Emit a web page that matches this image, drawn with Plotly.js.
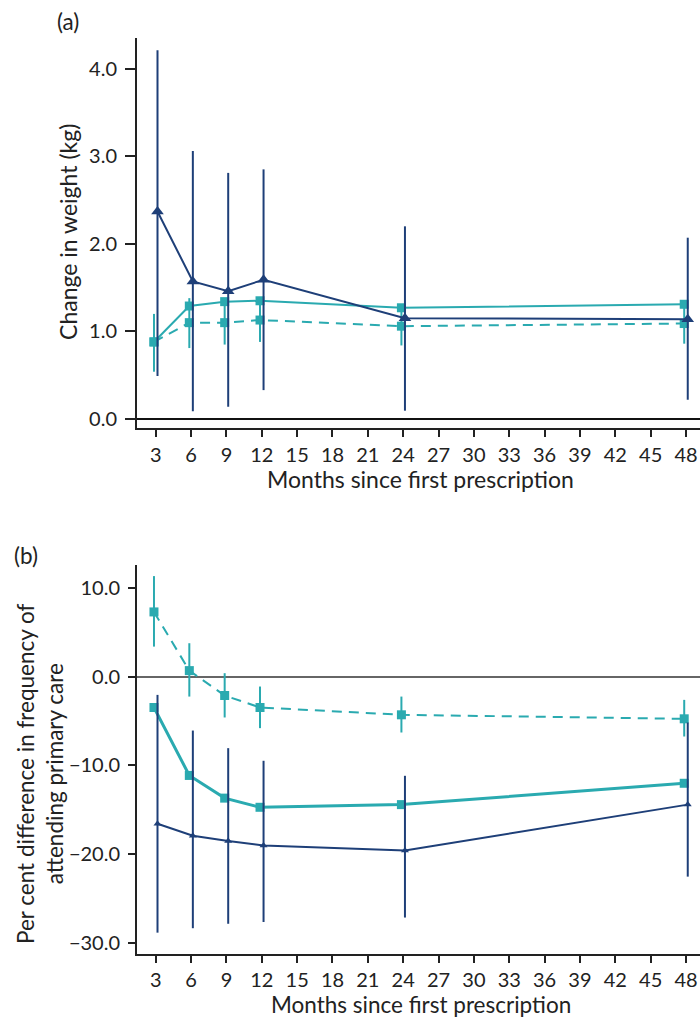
<!DOCTYPE html>
<html>
<head>
<meta charset="utf-8">
<script src="https://cdn.plot.ly/plotly-3.0.1.min.js"></script>
<style>html,body{margin:0;padding:0;background:#fff;}#chart{width:700px;height:1019px;}</style>
</head>
<body>
<div id="chart"></div>
<script>
// ---- Data ----
const months = [3, 6, 9, 12, 24, 48];
const xTicks = [3, 6, 9, 12, 15, 18, 21, 24, 27, 30, 33, 36, 39, 42, 45, 48];

// Panel (a): change in weight (kg)
const weightNavy   = [2.37, 1.57, 1.46, 1.59, 1.15, 1.14];
const weightNavyLo = [0.49, 0.09, 0.14, 0.33, 0.095, 0.22];
const weightNavyHi = [4.21, 3.06, 2.81, 2.85, 2.20, 2.07];
const weightTealSolid = [0.88, 1.29, 1.34, 1.35, 1.27, 1.31];
const weightTealDash  = [0.88, 1.10, 1.10, 1.13, 1.06, 1.09];
const weightTealDashLo = [0.54, 0.81, 0.85, 0.88, 0.84, 0.86];
const weightTealDashHi = [1.20, 1.38, 1.36, 1.37, 1.28, 1.32];

// Panel (b): per cent difference in frequency of attending primary care
const visitsNavy   = [-16.55, -17.9, -18.5, -19.0, -19.55, -14.4];
const visitsNavyLo = [-28.8, -28.3, -27.8, -27.6, -27.1, -22.5];
const visitsNavyHi = [-2.06, -6.07, -8.05, -9.47, -11.16, -5.17];
const visitsTealSolid = [-3.48, -11.12, -13.67, -14.7, -14.4, -12.0];
const visitsTealDash  = [7.27, 0.67, -2.13, -3.48, -4.3, -4.75];
const visitsTealDashLo = [3.37, -2.25, -4.6, -5.8, -6.29, -6.74];
const visitsTealDashHi = [11.3, 3.75, 0.38, -1.12, -2.25, -2.62];

// Text
const panelLabels = ['(a)', '(b)'];
const xTitle = 'Months since first prescription';
const yTitleA = 'Change in weight (kg)';
const yTitleB = 'Per cent difference in frequency of<br>attending primary care';

// ---- Styling ----
const NAVY = '#1e3f78';
const TEAL = '#2aaab0';
const DODGE = 0.15;
const xNavy = months.map(m => m + DODGE);
const xTeal = months.map(m => m - DODGE);
const up = (v, hi) => hi.map((h, i) => h - v[i]);
const dn = (v, lo) => lo.map((l, i) => v[i] - l);

const traces = [
  // Panel (a)
  {x: xTeal, y: weightTealDash, xaxis: 'x', yaxis: 'y', mode: 'lines+markers', type: 'scatter',
   line: {color: TEAL, width: 2, dash: '10px,7px'}, marker: {symbol: 'square', size: 9, color: TEAL},
   error_y: {type: 'data', symmetric: false, array: up(weightTealDash, weightTealDashHi),
             arrayminus: dn(weightTealDash, weightTealDashLo), color: TEAL, thickness: 2, width: 0},
   showlegend: false},
  {x: xTeal, y: weightTealSolid, xaxis: 'x', yaxis: 'y', mode: 'lines+markers', type: 'scatter',
   line: {color: TEAL, width: 2}, marker: {symbol: 'square', size: 9, color: TEAL}, showlegend: false},
  {x: xNavy, y: weightNavy, xaxis: 'x', yaxis: 'y', mode: 'lines+markers', type: 'scatter',
   line: {color: NAVY, width: 2}, marker: {symbol: 'triangle-up', size: 11, color: NAVY},
   error_y: {type: 'data', symmetric: false, array: up(weightNavy, weightNavyHi),
             arrayminus: dn(weightNavy, weightNavyLo), color: NAVY, thickness: 2, width: 0},
   showlegend: false},
  // Panel (b)
  {x: xTeal, y: visitsTealDash, xaxis: 'x2', yaxis: 'y2', mode: 'lines+markers', type: 'scatter',
   line: {color: TEAL, width: 2, dash: '10px,7px'}, marker: {symbol: 'square', size: 9, color: TEAL},
   error_y: {type: 'data', symmetric: false, array: up(visitsTealDash, visitsTealDashHi),
             arrayminus: dn(visitsTealDash, visitsTealDashLo), color: TEAL, thickness: 2, width: 0},
   showlegend: false},
  {x: xTeal, y: visitsTealSolid, xaxis: 'x2', yaxis: 'y2', mode: 'lines+markers', type: 'scatter',
   line: {color: TEAL, width: 3}, marker: {symbol: 'square', size: 9, color: TEAL}, showlegend: false},
  {x: xNavy, y: visitsNavy, xaxis: 'x2', yaxis: 'y2', mode: 'lines+markers', type: 'scatter',
   line: {color: NAVY, width: 2}, marker: {symbol: 'triangle-up', size: 7, color: NAVY},
   error_y: {type: 'data', symmetric: false, array: up(visitsNavy, visitsNavyHi),
             arrayminus: dn(visitsNavy, visitsNavyLo), color: NAVY, thickness: 2, width: 0},
   showlegend: false}
];

const FONT = 'Lato, "Open Sans", sans-serif';
const TXT = '#222222';
const FS_TICK = 20;
const FS_TITLE = 23;
const xCommon = {
  range: [1.41, 49.19], tickvals: xTicks, ticktext: xTicks.map(String),
  ticks: 'outside', ticklen: 7, tickwidth: 2, tickcolor: '#222',
  showline: true, linecolor: '#222', linewidth: 2, showgrid: false, zeroline: false,
  tickfont: {family: FONT, size: FS_TICK, color: TXT}
};
const yCommon = {
  ticks: 'outside', tickwidth: 2, tickcolor: '#222',
  showline: true, linecolor: '#222', linewidth: 2, showgrid: false,
  ticklabelstandoff: 4,
  tickfont: {family: FONT, size: FS_TICK, color: TXT}
};
const tf = {family: FONT, size: FS_TITLE, color: TXT};
const tfy = {family: FONT, size: 22.5, color: TXT};

const layout = {
  width: 700, height: 1019,
  margin: {l: 137, r: 0, t: 38, b: 65},
  paper_bgcolor: '#fff', plot_bgcolor: '#fff',
  font: {family: FONT, color: TXT},
  xaxis: Object.assign({}, xCommon, {anchor: 'y', domain: [0, 1], ticklabelstandoff: 1}),
  xaxis2: Object.assign({}, xCommon, {anchor: 'y2', domain: [0, 1], ticklabelstandoff: 0}),
  yaxis: Object.assign({}, yCommon, {
    anchor: 'x', domain: [0.5742, 1], range: [-0.103, 4.35], ticklen: 10,
    tickvals: [0, 1, 2, 3, 4], ticktext: ['0.0', '1.0', '2.0', '3.0', '4.0'],
    zeroline: true, zerolinecolor: '#111', zerolinewidth: 2.5
  }),
  yaxis2: Object.assign({}, yCommon, {
    anchor: 'x2', domain: [0, 0.4247], range: [-31.2, 12.55], ticklen: 7,
    tickvals: [-30, -20, -10, 0, 10], ticktext: ['\u221230.0', '\u221220.0', '\u221210.0', '0.0', '10.0'],
    zeroline: true, zerolinecolor: '#666', zerolinewidth: 2
  }),
  annotations: [
    {text: panelLabels[0], xref: 'paper', yref: 'paper', x: -0.146, y: 1.0175, xanchor: 'left', yanchor: 'middle',
     showarrow: false, font: tfy},
    {text: panelLabels[1], xref: 'paper', yref: 'paper', x: -0.222, y: 0.4345, xanchor: 'left', yanchor: 'middle',
     showarrow: false, font: tfy},
    {text: yTitleA, xref: 'paper', yref: 'paper', x: -0.1226, y: 0.7882, xanchor: 'center', yanchor: 'middle',
     textangle: -90, showarrow: false, font: tf},
    {text: yTitleB, xref: 'paper', yref: 'paper', x: -0.1723, y: 0.1976, xanchor: 'center', yanchor: 'middle',
     textangle: -90, showarrow: false, font: tfy},
    {text: xTitle, xref: 'paper', yref: 'paper', x: 0.5044, y: 0.5186, xanchor: 'center', yanchor: 'middle',
     showarrow: false, font: tf},
    {text: xTitle, xref: 'paper', yref: 'paper', x: 0.5044, y: -0.0546, xanchor: 'center', yanchor: 'middle',
     showarrow: false, font: tfy}
  ]
};

Plotly.newPlot('chart', traces, layout, {displayModeBar: false, staticPlot: true});
</script>
</body>
</html>
